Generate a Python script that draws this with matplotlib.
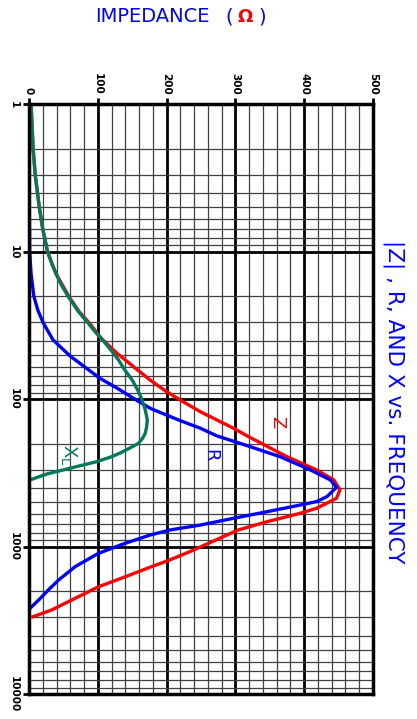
import matplotlib
matplotlib.use("Agg")
import matplotlib.pyplot as plt
from matplotlib.ticker import FixedLocator, NullFormatter, LogLocator

# reactance X_L (ohm) vs frequency (MHz)
freq_x = [1, 2, 3, 5, 7, 10, 12, 14, 16.8, 20.1, 25.5, 30.5, 35.7, 39.6,
          46.3, 54, 63, 74, 86.5, 100, 118, 138, 153, 170, 184, 199, 211,
          232, 247, 265, 286, 305, 321, 352]
reactance = [3, 6, 9, 15, 20, 27, 33, 39, 47, 57, 72, 86, 98, 107,
             119, 130, 139, 150, 158, 164, 169, 172, 171, 169, 165, 159, 149,
             132, 118, 98, 69, 45, 26, 1.5]

# resistance R
freq_r = [1, 5, 10, 14, 20, 25, 30.5, 39.6, 51, 72, 84, 98.5, 115, 128,
          142, 157, 177, 199, 245, 301, 352, 395, 457, 494, 521, 578, 641,
          712, 769, 832, 946, 1107, 1364, 1680, 1963, 2296, 2612]
resistance = [0.5, 0.5, 1, 3, 7, 13, 21, 35, 60, 103, 128, 152, 176, 200,
              224, 249, 273, 307, 365, 409, 438, 447, 433, 418, 394, 346, 297,
              249, 205, 176, 140, 101, 67, 43, 28, 14, 1.5]

# impedance |Z|
freq_z = [1, 2, 3, 5, 7, 10, 14, 20.1, 25.5, 30.5, 38.6, 48.8, 60.1, 74,
          88.8, 103.8, 121.4, 138, 157, 179, 245, 301, 352, 410, 469, 548,
          593, 676, 769, 889, 1063, 1242, 1364, 1596, 1866, 2296, 2680, 2978]
z_mag = [3, 6, 9, 15, 20, 27, 39, 58, 73, 88, 105, 128, 152, 176,
         200, 224, 249, 273, 297, 319, 375, 418, 443, 452, 447, 418,
         394, 346, 304, 274, 237, 202, 178, 140, 101, 62, 33, 6]

imp_ticks = [0, 100, 200, 300, 400, 500]
freq_ticks = [1, 10, 100, 1000, 10000]
freq_labels = ["1", "10", "100", "1000", "10000"]

fig = plt.figure(figsize=(4.17, 7.19), dpi=100)
ax = fig.add_axes([29 / 417, 24.7 / 719, 344 / 417, 590 / 719])

ax.plot(z_mag, freq_z, color="#ff0000", lw=2.4, solid_joinstyle="round")
ax.plot(resistance, freq_r, color="#0000ff", lw=2.4, solid_joinstyle="round")
ax.plot(reactance, freq_x, color="#007a5c", lw=2.4, solid_joinstyle="round")

ax.set_xlim(0, 500)
ax.set_yscale("log")
ax.set_ylim(10000, 1)

ax.xaxis.tick_top()
ax.xaxis.set_major_locator(FixedLocator(imp_ticks))
ax.xaxis.set_minor_locator(FixedLocator([v for v in range(0, 501, 20) if v % 100]))
ax.set_xticklabels([str(v) for v in imp_ticks], rotation=-90,
                   fontweight="bold", fontsize=7.5)

ax.yaxis.set_major_locator(FixedLocator(freq_ticks))
ax.yaxis.set_minor_locator(LogLocator(base=10, subs=range(2, 10)))
ax.yaxis.set_minor_formatter(NullFormatter())
ax.set_yticklabels(freq_labels, rotation=-90, fontweight="bold", fontsize=7.5)
for lbl in ax.get_yticklabels():
    lbl.set_va("center")

ax.tick_params(which="major", length=4, width=2, pad=3)
ax.tick_params(which="minor", length=0)
ax.grid(which="major", color="black", lw=2)
ax.grid(which="minor", color="0.25", lw=0.9)
ax.set_axisbelow(True)
for sp in ax.spines.values():
    sp.set_linewidth(2.5)

ax.text(361, 143, "Z", color="#ff0000", rotation=-90, fontsize=13,
        ha="center", va="center")
ax.text(263, 239, "R", color="#0000ff", rotation=-90, fontsize=13,
        ha="center", va="center")
ax.text(58, 239, r"$\mathregular{X_L}$", color="#007a5c", rotation=-90,
        fontsize=13, ha="center", va="center")

ytop = 1 - 17 / 719
fig.text(95 / 417, ytop, "IMPEDANCE", color="#0000ff", fontsize=14,
         ha="left", va="center")
fig.text(229 / 417, ytop, "(", color="#0000ff", fontsize=14,
         ha="center", va="center")
fig.text(245 / 417, ytop, "\u03a9", color="#ff0000", fontsize=13,
         fontweight="bold", ha="center", va="center")
fig.text(262 / 417, ytop, ")", color="#0000ff", fontsize=14,
         ha="center", va="center")

fig.text(394 / 417, 1 - 402 / 719, "|Z| , R, AND X vs. FREQUENCY",
         color="#0000ff", fontsize=15.5, rotation=-90, ha="center", va="center")

fig.savefig("out.png", dpi=100)
